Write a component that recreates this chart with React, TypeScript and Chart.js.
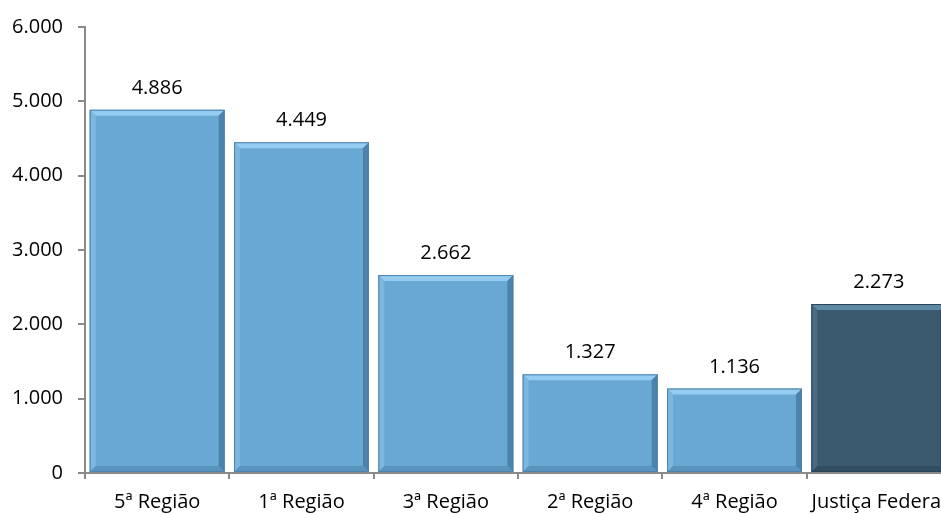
import React, { useEffect, useRef } from "react";
import { Chart, registerables } from "chart.js";

Chart.register(...registerables);

const categories = ["5ª Região", "1ª Região", "3ª Região", "2ª Região", "4ª Região", "Justiça Federal"];
const values = [4886, 4449, 2662, 1327, 1136, 2273];
const barColors = ["#6aa8d4", "#6aa8d4", "#6aa8d4", "#6aa8d4", "#6aa8d4", "#3b5a70"];
const bevelTop = ["#94cdf1", "#94cdf1", "#94cdf1", "#94cdf1", "#94cdf1", "#5f8aa6"];
const bevelLeft = ["#7db6de", "#7db6de", "#7db6de", "#7db6de", "#7db6de", "#4a6b83"];
const bevelRight = ["#4d82ab", "#4d82ab", "#4d82ab", "#4d82ab", "#4d82ab", "#2a4456"];
const bevelBottom = ["#5a93bf", "#5a93bf", "#5a93bf", "#5a93bf", "#5a93bf", "#314d61"];
const yTicks = [0, 1000, 2000, 3000, 4000, 5000, 6000];

const FONT = "'Open Sans', sans-serif";
const WEIGHT = 400;
const SIZE = 20;

const fmt = (v: number) => String(v).replace(/\B(?=(\d{3})+(?!\d))/g, ".");

const bevelPlugin = {
  id: "bevel",
  afterDatasetsDraw(chart: any) {
    const ctx = chart.ctx;
    const meta = chart.getDatasetMeta(0);
    const b = 6;
    meta.data.forEach((bar: any, i: number) => {
      const { x, y, base, width } = bar.getProps(["x", "y", "base", "width"], true);
      const l = x - width / 2;
      const r = x + width / 2;
      const t = y;
      const bt = base;
      ctx.save();
      ctx.fillStyle = bevelTop[i];
      ctx.beginPath();
      ctx.moveTo(l, t); ctx.lineTo(r, t); ctx.lineTo(r - b, t + b); ctx.lineTo(l + b, t + b); ctx.closePath(); ctx.fill();
      ctx.fillStyle = bevelLeft[i];
      ctx.beginPath();
      ctx.moveTo(l, t); ctx.lineTo(l + b, t + b); ctx.lineTo(l + b, bt - b); ctx.lineTo(l, bt); ctx.closePath(); ctx.fill();
      ctx.fillStyle = bevelRight[i];
      ctx.beginPath();
      ctx.moveTo(r, t); ctx.lineTo(r - b, t + b); ctx.lineTo(r - b, bt - b); ctx.lineTo(r, bt); ctx.closePath(); ctx.fill();
      ctx.fillStyle = bevelBottom[i];
      ctx.beginPath();
      ctx.moveTo(l, bt); ctx.lineTo(l + b, bt - b); ctx.lineTo(r - b, bt - b); ctx.lineTo(r, bt); ctx.closePath(); ctx.fill();
      ctx.strokeStyle = bevelRight[i];
      ctx.lineWidth = 1;
      ctx.strokeRect(l + 0.5, t + 0.5, width - 1, bt - t - 1);
      ctx.fillStyle = "#000000";
      ctx.font = `${WEIGHT} ${SIZE}px ${FONT}`;
      ctx.textAlign = "center";
      ctx.textBaseline = "alphabetic";
      ctx.fillText(fmt(values[i]), x, t - 16);
      ctx.restore();
    });
  },
};

export default function App() {
  const ref = useRef<HTMLCanvasElement | null>(null);
  useEffect(() => {
    if (!ref.current) return;
    const chart = new Chart(ref.current, {
      type: "bar",
      data: {
        labels: categories,
        datasets: [
          {
            data: values,
            backgroundColor: barColors,
            borderWidth: 0,
            barPercentage: 0.935,
            categoryPercentage: 1,
          },
        ],
      },
      options: {
        responsive: false,
        animation: false,
        layout: { padding: { top: 24, right: 9, left: 0, bottom: 0 } },
        plugins: { legend: { display: false }, tooltip: { enabled: false } },
        scales: {
          x: {
            grid: {
              display: true,
              drawOnChartArea: false,
              drawTicks: true,
              tickLength: 6,
              color: "#8a8a8a",
              lineWidth: 2,
              offset: true,
            },
            border: { display: true, color: "#8a8a8a", width: 2 },
            ticks: {
              color: "#000000",
              font: { family: FONT, size: SIZE, weight: WEIGHT },
              padding: 11,
              maxRotation: 0,
              autoSkip: false,
            },
            afterFit(scale: any) {
              scale.height = 41;
            },
          },
          y: {
            min: 0,
            max: 6000,
            afterBuildTicks(scale: any) {
              scale.ticks = yTicks.map((v) => ({ value: v }));
            },
            grid: {
              display: true,
              drawOnChartArea: false,
              drawTicks: true,
              tickLength: 7,
              color: "#8a8a8a",
              lineWidth: 2,
            },
            border: { display: true, color: "#8a8a8a", width: 2 },
            ticks: {
              color: "#000000",
              font: { family: FONT, size: SIZE, weight: WEIGHT },
              padding: 15,
              callback: (v: any) => fmt(Number(v)),
            },
            afterFit(scale: any) {
              scale.width = 85;
            },
          },
        },
      },
      plugins: [bevelPlugin],
    });
    return () => chart.destroy();
  }, []);
  return (
    <div style={{ position: "fixed", left: 0, top: 0, width: 941, height: 514, overflow: "hidden", background: "#ffffff" }}>
      <canvas ref={ref} width={960} height={514} style={{ display: "block", width: 960, height: 514 }} />
    </div>
  );
}
